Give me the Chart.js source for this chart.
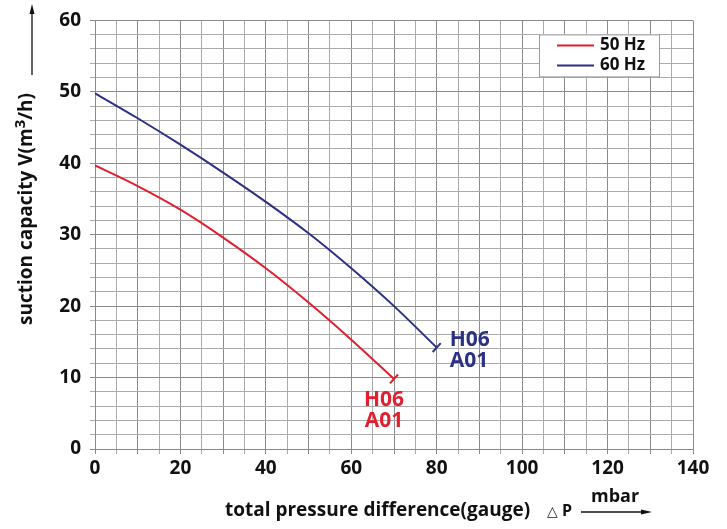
<!DOCTYPE html>
<html>
<head>
<meta charset="utf-8">
<script src="https://cdn.jsdelivr.net/npm/chart.js@4.4.0/dist/chart.umd.min.js"></script>
<style>
  html, body { margin: 0; padding: 0; background: #fff; }
  #wrap { width: 727px; height: 529px; }
</style>
</head>
<body>
<div id="wrap"><canvas id="pumpChart" width="727" height="529"></canvas></div>
<script>
// values
const pressure50 = [0, 10, 20, 30, 40, 50, 60, 70];
const capacity50 = [39.7, 36.8, 33.5, 29.6, 25.3, 20.5, 15.3, 9.8];
const pressure60 = [0, 10, 20, 30, 40, 50, 60, 70, 80];
const capacity60 = [49.8, 46.3, 42.6, 38.7, 34.6, 30.2, 25.3, 20.0, 14.2];
const seriesLabels = ['50 Hz', '60 Hz'];
const modelLines = ['H06', 'A01'];
const xRange = [0, 140];
const yRange = [0, 60];

const RED = '#e11f2f';
const BLUE = '#2c3184';
const FONT = '"Open Sans", sans-serif';

function toPoints(xs, ys) {
    return xs.map((x, i) => ({ x: x, y: ys[i] }));
}
// only the last point gets the little end bar
function endOnly(arr, v) {
    return arr.map((_, i) => i === arr.length - 1 ? v : 0);
}

const decorations = {
    id: 'decorations',
    afterDraw(chart) {
        const ctx = chart.ctx;
        const area = chart.chartArea;
        const xs = chart.scales.x, ys = chart.scales.y;
        ctx.save();

        // legend box
        const bx = area.right - 154, by = area.top + 14, bw = 120, bh = 42;
        ctx.fillStyle = '#fff';
        ctx.fillRect(bx, by, bw, bh);
        ctx.strokeStyle = '#9a9a9a';
        ctx.lineWidth = 1;
        ctx.strokeRect(bx + 0.5, by + 0.5, bw, bh);
        chart.data.datasets.forEach((ds, i) => {
            const ly = by + 11 + i * 20;
            ctx.strokeStyle = ds.borderColor;
            ctx.lineWidth = 2;
            ctx.beginPath();
            ctx.moveTo(bx + 18, ly);
            ctx.lineTo(bx + 55, ly);
            ctx.stroke();
            ctx.fillStyle = '#111';
            ctx.font = 'bold 17px ' + FONT;
            ctx.textBaseline = 'middle';
            ctx.textAlign = 'left';
            ctx.fillText(ds.label, bx + 61, ly);
        });

        // model labels next to the curve ends
        ctx.font = 'bold 21px ' + FONT;
        ctx.textBaseline = 'middle';
        const bEnd = { x: xs.getPixelForValue(pressure60[pressure60.length - 1]), y: ys.getPixelForValue(capacity60[capacity60.length - 1]) };
        ctx.fillStyle = BLUE;
        ctx.textAlign = 'left';
        modelLines.forEach((t, i) => ctx.fillText(t, bEnd.x + 13, bEnd.y - 8 + i * 21));
        const rEnd = { x: xs.getPixelForValue(pressure50[pressure50.length - 1]), y: ys.getPixelForValue(capacity50[capacity50.length - 1]) };
        ctx.fillStyle = RED;
        ctx.textAlign = 'center';
        modelLines.forEach((t, i) => ctx.fillText(t, rEnd.x - 10, rEnd.y + 21 + i * 21));

        // y axis title, rotated, with arrow above
        ctx.fillStyle = '#111';
        ctx.strokeStyle = '#111';
        ctx.save();
        ctx.translate(27, 325);
        ctx.rotate(-Math.PI / 2);
        ctx.textAlign = 'left';
        ctx.textBaseline = 'middle';
        ctx.font = 'bold 19px ' + FONT;
        const p1 = 'suction capacity V(m';
        ctx.fillText(p1, 0, 0);
        let w = ctx.measureText(p1).width;
        ctx.font = 'bold 15px ' + FONT;
        ctx.fillText('3', w, -6);
        w += ctx.measureText('3').width;
        ctx.font = 'bold 19px ' + FONT;
        ctx.fillText('/h)', w, 0);
        ctx.restore();

        ctx.lineWidth = 1.3;
        ctx.beginPath();
        ctx.moveTo(32, 75);
        ctx.lineTo(32, 10);
        ctx.stroke();
        ctx.beginPath();
        ctx.moveTo(32, 4);
        ctx.lineTo(29.5, 14);
        ctx.lineTo(34.5, 14);
        ctx.closePath();
        ctx.fill();

        // x axis title
        ctx.textBaseline = 'middle';
        ctx.textAlign = 'left';
        ctx.font = 'bold 19px ' + FONT;
        ctx.fillText('total pressure difference(gauge)', 225, 511);
        ctx.font = '14px ' + FONT;
        ctx.fillText('\u25B3', 547, 512);
        ctx.font = 'bold 16px ' + FONT;
        ctx.fillText('P', 562, 511);
        ctx.font = 'bold 18px ' + FONT;
        ctx.fillText('mbar', 591, 497);
        ctx.lineWidth = 1.3;
        ctx.beginPath();
        ctx.moveTo(581, 512);
        ctx.lineTo(645, 512);
        ctx.stroke();
        ctx.beginPath();
        ctx.moveTo(652, 512);
        ctx.lineTo(641, 509.5);
        ctx.lineTo(641, 514.5);
        ctx.closePath();
        ctx.fill();

        ctx.restore();
    }
};

new Chart(document.getElementById('pumpChart'), {
    type: 'scatter',
    data: {
        datasets: [
            {
                label: seriesLabels[0],
                data: toPoints(pressure50, capacity50),
                showLine: true,
                borderColor: RED,
                backgroundColor: RED,
                borderWidth: 2,
                cubicInterpolationMode: 'monotone',
                pointStyle: 'line',
                pointRadius: endOnly(pressure50, 6),
                pointBorderWidth: 2,
                pointBorderColor: RED,
                pointRotation: 132
            },
            {
                label: seriesLabels[1],
                data: toPoints(pressure60, capacity60),
                showLine: true,
                borderColor: BLUE,
                backgroundColor: BLUE,
                borderWidth: 2,
                cubicInterpolationMode: 'monotone',
                pointStyle: 'line',
                pointRadius: endOnly(pressure60, 6),
                pointBorderWidth: 2,
                pointBorderColor: BLUE,
                pointRotation: 132
            }
        ]
    },
    options: {
        responsive: false,
        animation: false,
        events: [],
        layout: { padding: { top: 16, right: 34, left: 0, bottom: 0 } },
        plugins: {
            legend: { display: false },
            tooltip: { enabled: false }
        },
        scales: {
            x: {
                type: 'linear',
                min: xRange[0],
                max: xRange[1],
                afterFit: s => { s.height = 80; },
                border: { color: '#8a8a8a', width: 1 },
                grid: {
                    color: c => c.tick && c.tick.value % 10 === 0 ? '#8a8a8a' : '#ababab',
                    tickLength: 5
                },
                ticks: {
                    stepSize: 5,
                    autoSkip: false,
                    maxRotation: 0,
                    padding: 3,
                    color: '#111',
                    font: { family: FONT, weight: 'bold', size: 19 },
                    callback: v => v % 20 === 0 ? v : ''
                }
            },
            y: {
                min: yRange[0],
                max: yRange[1],
                afterFit: s => { s.width = 95; },
                border: { color: '#8a8a8a', width: 1 },
                grid: {
                    color: c => c.tick && c.tick.value % 10 === 0 ? '#8a8a8a' : '#ababab',
                    tickLength: 5
                },
                ticks: {
                    stepSize: 2,
                    autoSkip: false,
                    padding: 9,
                    color: '#111',
                    font: { family: FONT, weight: 'bold', size: 19 },
                    callback: v => v % 10 === 0 ? v : ''
                }
            }
        }
    },
    plugins: [decorations]
});
</script>
</body>
</html>
